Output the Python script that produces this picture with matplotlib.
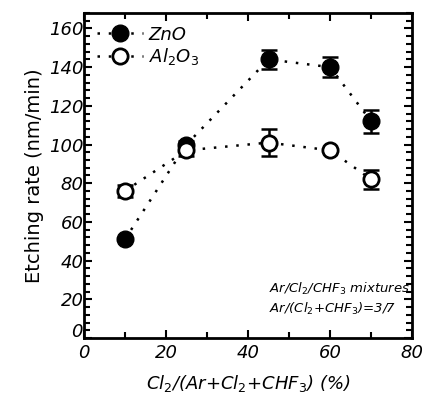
import numpy as np
import matplotlib
matplotlib.use("Agg")
import matplotlib.pyplot as plt
from matplotlib.ticker import MultipleLocator, FuncFormatter

plt.rcParams['font.family'] = ['DejaVu Sans']
plt.rcParams['mathtext.fontset'] = 'dejavusans'

cl2 = [10, 25, 45, 60, 70]
zno = [51, 100, 144, 140, 112]
zno_err = [0, 2, 5, 5, 6]
al2o3 = [76, 97, 101, 97, 82]
al2o3_err = [3, 3, 7, 0, 5]

fig = plt.figure(figsize=(4.28, 3.93), dpi=100)
ax = fig.add_axes([0.196, 0.140, 0.767, 0.827])

dots = (0, (1, 3.5))
ax.errorbar(cl2, zno, yerr=zno_err, fmt="none", ecolor="k", capsize=6,
            capthick=1.8, elinewidth=1.8)
ax.errorbar(cl2, al2o3, yerr=al2o3_err, fmt="none", ecolor="k", capsize=6,
            capthick=1.8, elinewidth=1.8)
h1, = ax.plot(cl2, zno, marker="o", color="k", mfc="k", ms=12, ls=dots,
              lw=1.8, label="ZnO")
h2, = ax.plot(cl2, al2o3, marker="o", color="k", mfc="white", ms=11, mew=2,
              ls=dots, lw=1.8, label=r"Al$_2$O$_3$")

ax.set_xlim(0, 80)
ax.set_ylim(0, 168)
ax.xaxis.set_major_locator(MultipleLocator(20))
ax.xaxis.set_minor_locator(MultipleLocator(10))
ax.yaxis.set_major_locator(MultipleLocator(20))
ax.yaxis.set_minor_locator(MultipleLocator(4))
# y "0" is drawn by hand a bit higher so it clears the x "0"
ax.yaxis.set_major_formatter(FuncFormatter(lambda v, p: "" if v == 0 else f"{v:.0f}"))
ax.tick_params(which="both", direction="in", top=True, right=True, width=1.5)
ax.tick_params(which="major", length=6, labelsize=13)
ax.tick_params(axis="y", which="major", pad=0)
ax.tick_params(axis="x", which="major", pad=4)
ax.tick_params(which="minor", length=4)
for lab in ax.get_xticklabels() + ax.get_yticklabels():
    lab.set_style("italic")
for s in ax.spines.values():
    s.set_linewidth(2)
ax.annotate("0", xy=(0, 0), xycoords="data", xytext=(-1, 4),
            textcoords="offset points", ha="right", va="center",
            fontsize=13, style="italic", annotation_clip=False)

ax.set_xlabel(r"Cl$_2$/(Ar+Cl$_2$+CHF$_3$) (%)", fontsize=13, style="italic",
              labelpad=8)
ax.set_ylabel("Etching rate (nm/min)", fontsize=14, labelpad=4)

ax.legend(handles=[h1, h2], loc="upper left", bbox_to_anchor=(0.0, 1.0),
          frameon=False, handlelength=2.6, handletextpad=0.3,
          borderaxespad=0.3, labelspacing=0.15,
          prop={"style": "italic", "size": 13})

ax.text(0.565, 0.150, r"Ar/Cl$_2$/CHF$_3$ mixtures", transform=ax.transAxes,
        ha="left", va="center", fontsize=9.5, style="italic")
ax.text(0.565, 0.090, r"Ar/(Cl$_2$+CHF$_3$)=3/7", transform=ax.transAxes,
        ha="left", va="center", fontsize=9.5, style="italic")

plt.savefig("out.png", dpi=100)
